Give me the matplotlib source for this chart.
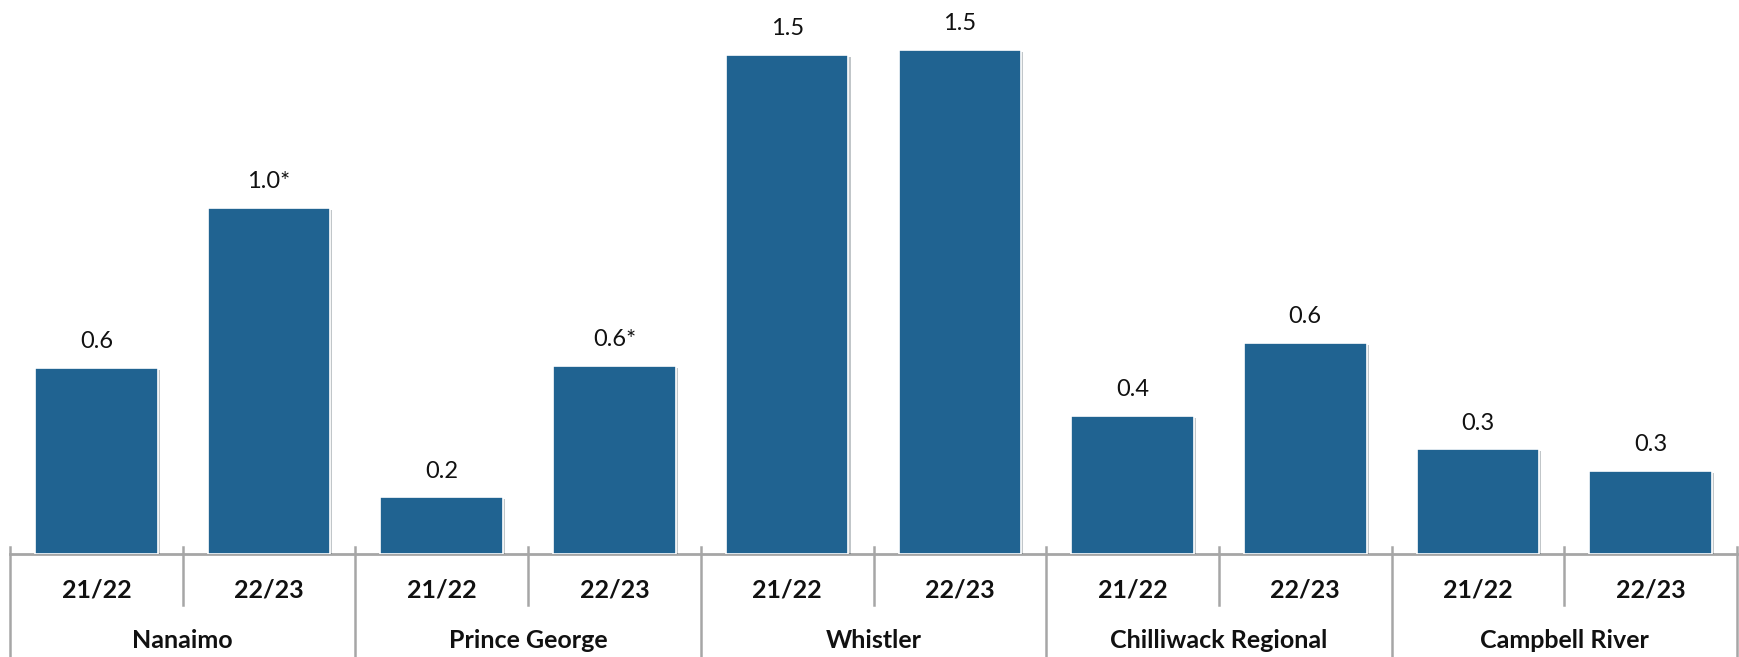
"""Per-site rates by fiscal year, two-level category axis."""

import matplotlib.pyplot as plt
import matplotlib.patheffects as pe
import matplotlib.transforms as mtransforms

sites = ["Nanaimo", "Prince George", "Whistler", "Chilliwack Regional", "Campbell River"]
years = ["21/22", "22/23"]
values = [0.56, 1.04, 0.17, 0.565, 1.50, 1.515, 0.415, 0.635, 0.315, 0.25]
value_labels = ["0.6", "1.0*", "0.2", "0.6*", "1.5", "1.5", "0.4", "0.6", "0.3", "0.3"]

BAR = "#206391"
GRID = "#a6a6a6"
FONT = ["Lato", "DejaVu Sans"]

W, H = 1739, 657
fig = plt.figure(figsize=(W / 100, H / 100), dpi=100)
ax = fig.add_axes([10 / W, 103 / H, 1727 / W, 554 / H])

x = list(range(len(values)))
bars = ax.bar(x, values, width=0.71, color=BAR, edgecolor="white", linewidth=1.2, zorder=3)
for b in bars:
    b.set_path_effects([pe.SimplePatchShadow(offset=(1.5, -1.5), alpha=0.25), pe.Normal()])

for xi, v, lab in zip(x, values, value_labels):
    ax.annotate(lab, (xi, v), xytext=(0, 14), textcoords="offset points",
                ha="center", va="baseline", fontsize=17, family=FONT, color="#111111")

ax.set_xlim(-0.5, len(values) - 0.5)
ax.set_ylim(0, 554 / 333)
for s in ("top", "right", "left"):
    ax.spines[s].set_visible(False)
ax.spines["bottom"].set_color(GRID)
ax.spines["bottom"].set_linewidth(2)
ax.set_xticks([])
ax.set_yticks([])

# two-level category axis drawn below the baseline
tr = mtransforms.blended_transform_factory(ax.transData, fig.transFigure)
top = 110 / H
for i in range(len(values) + 1):
    edge = i - 0.5
    bottom = 0 if i % 2 == 0 else 52 / H
    ax.plot([edge, edge], [top, bottom], transform=tr, color=GRID, lw=1.8, clip_on=False)

for i in x:
    ax.text(i, 67 / H, years[i % 2], transform=tr, ha="center", va="center",
            fontsize=18, fontweight="bold", family=FONT, color="#111111")
for g, name in enumerate(sites):
    ax.text(2 * g + 0.5, 17 / H, name, transform=tr, ha="center", va="center",
            fontsize=18, fontweight="bold", family=FONT, color="#111111")

fig.savefig("out.png", dpi=100)
